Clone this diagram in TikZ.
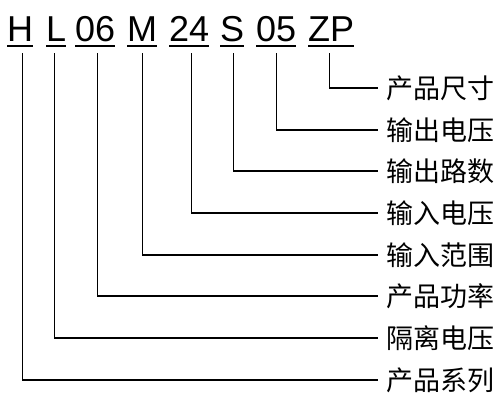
\documentclass[tikz,border=0pt]{standalone}
\usepackage{fontspec}
\setmainfont{Liberation Sans}
\newfontfamily\cjk{Noto Sans CJK SC}
\begin{document}
\begin{tikzpicture}[x=1bp,y=-1bp,
  tok/.style={anchor=base west,inner sep=0pt,font=\fontsize{36bp}{40bp}\selectfont},
  lab/.style={anchor=west,inner xsep=8bp,inner ysep=0pt,font=\cjk\fontsize{27bp}{30bp}\selectfont},
  uline/.style={line width=2.4bp},
  conn/.style={line width=1.2bp}]
\useasboundingbox (0,0) rectangle (499,394);
% code tokens
\node[tok] (t1) at (7,41) {H};
\node[tok] (t2) at (46,41) {L};
\node[tok] (t3) at (75,41) {06};
\node[tok] (t4) at (127,41) {M};
\node[tok] (t5) at (169,41) {24};
\node[tok] (t6) at (220,41) {S};
\node[tok] (t7) at (256,41) {05};
\node[tok] (t8) at (308,41) {ZP};
\foreach \t in {t1,t2,t3,t4,t5,t6,t7,t8}
  \draw[uline] ([yshift=-5bp]\t.base west) -- ([yshift=-5bp]\t.base east);
% labels
\node[lab] (l8) at (378,88) {产品尺寸};
\node[lab] (l7) at (378,130) {输出电压};
\node[lab] (l6) at (378,171) {输出路数};
\node[lab] (l5) at (378,213) {输入电压};
\node[lab] (l4) at (378,255) {输入范围};
\node[lab] (l3) at (378,296) {产品功率};
\node[lab] (l2) at (378,338) {隔离电压};
\node[lab] (l1) at (378,380) {产品系列};
% connectors
\draw[conn] ([xshift=2bp,yshift=-12bp]t1.base) |- (l1.west);
\draw[conn] ([xshift=-2bp,yshift=-12bp]t2.base) |- (l2.west);
\draw[conn] ([xshift=2bp,yshift=-12bp]t3.base) |- (l3.west);
\draw[conn] ([yshift=-12bp]t4.base) |- (l4.west);
\draw[conn] ([xshift=2bp,yshift=-12bp]t5.base) |- (l5.west);
\draw[conn] ([xshift=1bp,yshift=-12bp]t6.base) |- (l6.west);
\draw[conn] ([yshift=-12bp]t7.base) |- (l7.west);
\draw[conn] ([xshift=-2bp,yshift=-12bp]t8.base) |- (l8.west);
\end{tikzpicture}
\end{document}
